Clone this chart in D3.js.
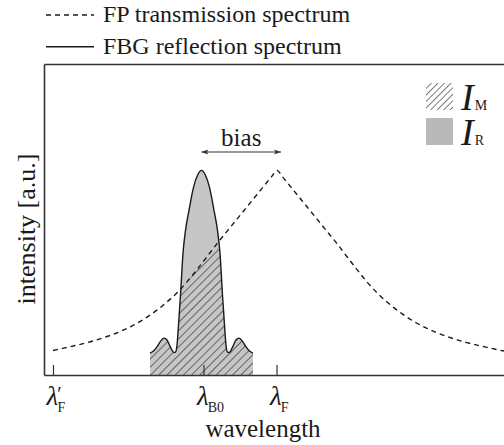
<!DOCTYPE html>
<html>
<head>
<meta charset="utf-8">
<script src="https://cdn.jsdelivr.net/npm/d3@7"></script>
<style>
  body { margin: 0; background: #fff; }
  svg { display: block; }
  text { font-family: "Liberation Serif", "Times New Roman", serif; fill: #1a1a1a; }
</style>
</head>
<body>
<svg id="chart" width="504" height="445"></svg>
<script>
// FP transmission spectrum: wavelength (a.u.) and normalised intensity
const fpWavelength = [0.9, 1.3, 2.3, 3.3, 4.3, 5.3, 6.3, 7.3, 8.3, 9.3, 10.3, 11.3, 12.3, 13.3, 14.3, 15.3,
  16.3, 17.3, 18.3, 19.3, 20.3, 21.3, 22.3, 22.8, 23.3, 23.8, 24.3, 25.3, 26.3, 27.3, 28.3, 29.3, 30.3,
  31.3, 32.3, 33.3, 34.3, 35.3, 36.3, 37.3, 38.3, 39.3, 40.3, 41.3, 42.3, 43.3, 44.3, 45.3, 46.0];
const fpIntensity = [0.120, 0.124, 0.135, 0.146, 0.158, 0.172, 0.188, 0.206, 0.228, 0.253, 0.283, 0.317,
  0.357, 0.402, 0.455, 0.515, 0.578, 0.642, 0.702, 0.762, 0.822, 0.882, 0.942, 0.972, 1.000, 0.972, 0.942,
  0.882, 0.822, 0.762, 0.702, 0.642, 0.578, 0.515, 0.455, 0.402, 0.357, 0.317, 0.283, 0.253, 0.228, 0.206,
  0.188, 0.172, 0.158, 0.146, 0.135, 0.124, 0.117];

// FBG reflection spectrum: main lobe with one side lobe on each side
const fbgWavelength = [10.60, 10.95, 11.35, 11.70, 12.00, 12.30, 12.60, 12.85, 13.00, 13.15, 13.30, 13.45,
  13.65, 13.90, 14.15, 14.50, 14.95, 15.35, 15.75, 16.15, 16.55, 17.00, 17.35, 17.60, 17.85, 18.05, 18.20,
  18.35, 18.50, 18.65, 18.90, 19.20, 19.50, 19.80, 20.15, 20.55, 20.90];
const fbgIntensity = [0.107, 0.117, 0.141, 0.168, 0.180, 0.171, 0.141, 0.117, 0.110, 0.112, 0.146, 0.244,
  0.390, 0.595, 0.707, 0.805, 0.917, 0.976, 1.000, 0.976, 0.917, 0.805, 0.707, 0.595, 0.390, 0.244, 0.146,
  0.112, 0.110, 0.117, 0.141, 0.171, 0.180, 0.168, 0.141, 0.117, 0.107];

// Marked wavelengths on the horizontal axis
const tickWavelengths = [0.9, 15.95, 23.25];
const tickPrimes = ["\u2032", "", ""];
const tickSubscripts = ["F", "B0", "F"];

// Wavelength shift between FBG centre and FP peak
const biasRange = [15.75, 23.7];
const biasLevel = 1.09;

const lineLegend = ["FP transmission spectrum", "FBG reflection spectrum"];
const areaLegend = ["M", "R"];

const fp = fpWavelength.map((w, i) => ({ w, v: fpIntensity[i] }));
const fbg = fbgWavelength.map((w, i) => ({ w, v: fbgIntensity[i] }));

const svg = d3.select("#chart");
const W = 504, H = 445;
const margin = { left: 44, top: 64, right: 0, bottom: 70 };

const x = d3.scaleLinear().domain([0, 46]).range([margin.left, W - margin.right]);
const y = d3.scaleLinear().domain([0, 1.52]).range([H - margin.bottom, margin.top]);

const defs = svg.append("defs");
const hatch = defs.append("pattern")
  .attr("id", "hatch").attr("patternUnits", "userSpaceOnUse")
  .attr("width", 5.8).attr("height", 5.8)
  .attr("patternTransform", "rotate(45)");
hatch.append("line").attr("x1", 0).attr("y1", 0).attr("x2", 0).attr("y2", 5.8)
  .attr("stroke", "#111").attr("stroke-width", 1.1);

const legendHatch = defs.append("pattern")
  .attr("id", "hatchLegend").attr("patternUnits", "userSpaceOnUse")
  .attr("width", 4.6).attr("height", 4.6)
  .attr("patternTransform", "rotate(45)");
legendHatch.append("line").attr("x1", 0).attr("y1", 0).attr("x2", 0).attr("y2", 4.6)
  .attr("stroke", "#111").attr("stroke-width", 1.1);

const fpArea = d3.area().x(d => x(d.w)).y0(y(0)).y1(d => y(d.v)).curve(d3.curveMonotoneX);
defs.append("clipPath").attr("id", "underFP").append("path").attr("d", fpArea(fp));

const fbgArea = d3.area().x(d => x(d.w)).y0(y(0)).y1(d => y(d.v)).curve(d3.curveMonotoneX);
const fbgLine = d3.line().x(d => x(d.w)).y(d => y(d.v)).curve(d3.curveMonotoneX);
const fpLine = d3.line().x(d => x(d.w)).y(d => y(d.v)).curve(d3.curveMonotoneX);

// I_R: reflected FBG power
svg.append("path").attr("d", fbgArea(fbg)).attr("fill", "#c6c6c6");
// I_M: the part of the reflection passed by the FP filter
svg.append("path").attr("d", fbgArea(fbg)).attr("fill", "url(#hatch)").attr("clip-path", "url(#underFP)");
svg.append("path").attr("d", fbgLine(fbg)).attr("fill", "none").attr("stroke", "#1a1a1a").attr("stroke-width", 1.4);
svg.append("path").attr("d", fpLine(fp)).attr("fill", "none").attr("stroke", "#1a1a1a")
  .attr("stroke-width", 1.4).attr("stroke-dasharray", "5,4");

// Frame: bottom axis with inward ticks, left axis and top border
const axisStyle = g => {
  g.select(".domain").attr("stroke", "#333").attr("stroke-width", 1.6);
  g.selectAll(".tick line").attr("stroke", "#333").attr("stroke-width", 1.2);
  g.selectAll(".tick text").remove();
};
svg.append("g").attr("transform", `translate(0,${y(0)})`)
  .call(d3.axisBottom(x).tickValues(tickWavelengths).tickSizeInner(-10).tickSizeOuter(0).tickFormat(""))
  .call(axisStyle);
svg.append("g").attr("transform", `translate(${x(0)},0)`)
  .call(d3.axisLeft(y).tickValues([]).tickSizeOuter(0)).call(axisStyle);
svg.append("g").attr("transform", `translate(0,${y.range()[1]})`)
  .call(d3.axisTop(x).tickValues([]).tickSizeOuter(0)).call(axisStyle);

// Wavelength labels
tickWavelengths.forEach((w, i) => {
  const t = svg.append("text").attr("x", x(w) - 6.5).attr("y", 405).attr("font-size", 27);
  t.append("tspan").attr("font-style", "italic").text("\u03bb");
  if (tickPrimes[i]) {
    t.append("tspan").attr("font-size", 20).attr("dx", -1).attr("dy", -4).text(tickPrimes[i]);
    t.append("tspan").attr("font-size", 14).attr("dx", -4).attr("dy", 10.5).text(tickSubscripts[i]);
  } else {
    t.append("tspan").attr("font-size", 14).attr("dy", 6.5).attr("dx", -1).text(tickSubscripts[i]);
  }
});

svg.append("text").attr("x", 263).attr("y", 437).attr("text-anchor", "middle")
  .attr("font-size", 25).text("wavelength");
svg.append("text").attr("transform", "translate(35,229) rotate(-90)").attr("text-anchor", "middle")
  .attr("font-size", 26).text("intensity [a.u.]");

// Bias annotation
defs.append("marker").attr("id", "arrow").attr("viewBox", "0 0 10 10")
  .attr("refX", 10).attr("refY", 5).attr("markerWidth", 7).attr("markerHeight", 7)
  .attr("markerUnits", "userSpaceOnUse").attr("orient", "auto-start-reverse")
  .append("path").attr("d", "M0,1.5 L10,5 L0,8.5 L2.5,5 Z").attr("fill", "#333");
svg.append("line")
  .attr("x1", x(biasRange[0])).attr("x2", x(biasRange[1]))
  .attr("y1", y(biasLevel)).attr("y2", y(biasLevel))
  .attr("stroke", "#333").attr("stroke-width", 1.1)
  .attr("marker-start", "url(#arrow)").attr("marker-end", "url(#arrow)");
svg.append("text").attr("x", (x(biasRange[0]) + x(biasRange[1])) / 2).attr("y", 146)
  .attr("text-anchor", "middle").attr("font-size", 25).text("bias");

// Line legend
lineLegend.forEach((label, i) => {
  const ly = 15 + i * 31.7;
  svg.append("line").attr("x1", 46).attr("x2", 94).attr("y1", ly).attr("y2", ly)
    .attr("stroke", "#1a1a1a").attr("stroke-width", 1.4)
    .attr("stroke-dasharray", i === 0 ? "5,4" : null);
  svg.append("text").attr("x", 103).attr("y", ly + 7).attr("font-size", 24).text(label);
});

// Area legend
areaLegend.forEach((sub, i) => {
  const top = 83 + i * 35;
  svg.append("rect").attr("x", 426).attr("y", top).attr("width", 27).attr("height", 27)
    .attr("fill", i === 0 ? "url(#hatchLegend)" : "#b9b9b9");
  const t = svg.append("text").attr("x", 461).attr("y", top + 27).attr("font-size", 38);
  t.append("tspan").attr("font-style", "italic").text("I");
  t.append("tspan").attr("font-size", 14).attr("dx", 1).text(sub);
});
</script>
</body>
</html>
